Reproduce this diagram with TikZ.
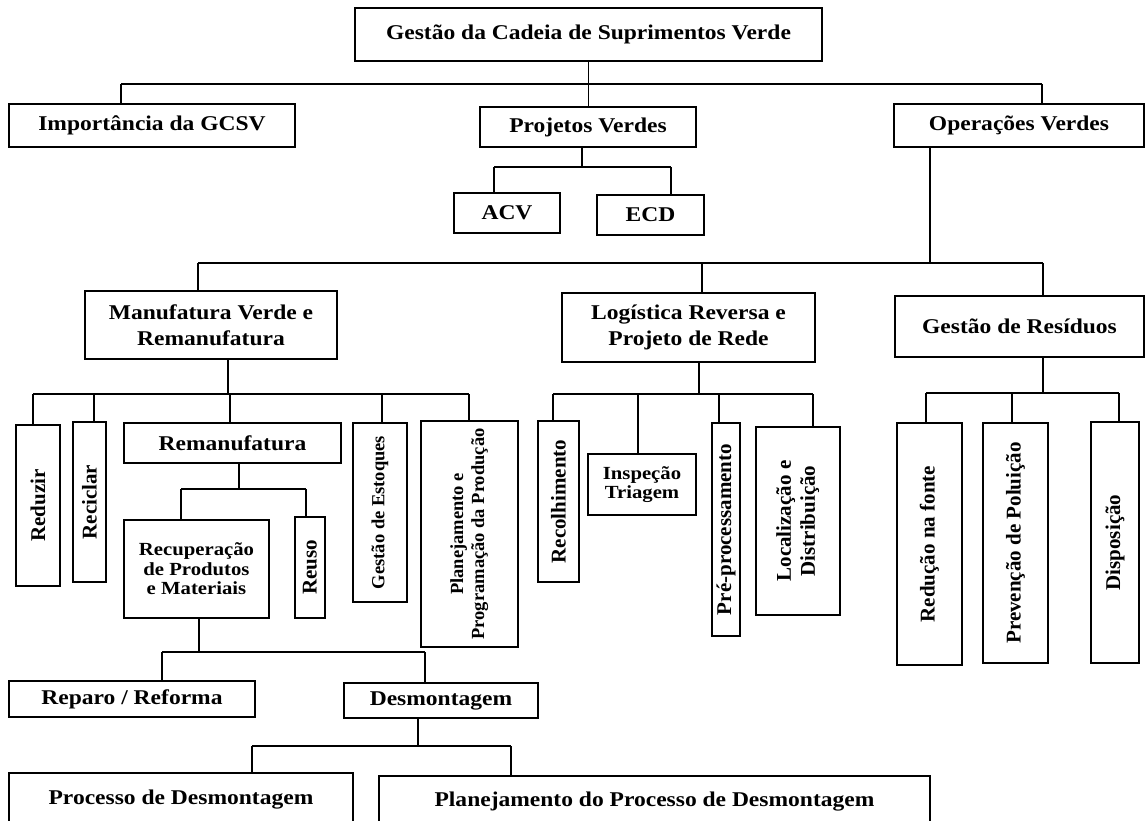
\documentclass[tikz,border=0pt]{standalone}
\usepackage{fontspec}
\setmainfont{Liberation Serif}[FakeStretch=1.12]
\newfontfamily\uprightfont{Liberation Serif}
\usepackage{graphicx}
\begin{document}
\begin{tikzpicture}[x=1pt,y=-1pt,
  box/.style={draw, line width=1.4pt, inner sep=0pt, align=center,
    font=\bfseries\fontsize{21}{26}\selectfont},
  smalltext/.style={font=\bfseries\fontsize{18.5}{19.5}\selectfont},
  rot/.style={font=\uprightfont\bfseries\fontsize{21}{24}\selectfont},
  smallrot/.style={font=\uprightfont\bfseries\fontsize{18.5}{21}\selectfont},
  link/.style={line width=1.4pt}]
\useasboundingbox (0,0) rectangle (1146,820);
\clip (0,0) rectangle (1146,820);

% top levels
\node[box, minimum width=467pt, minimum height=53pt] (root) at (588.5,34.5) {Gestão da Cadeia de Suprimentos Verde};
\node[box, minimum width=286pt, minimum height=43pt] (imp) at (152,125.5) {Importância da GCSV};
\node[box, minimum width=216pt, minimum height=40pt] (proj) at (588,127) {Projetos Verdes};
\node[box, minimum width=250pt, minimum height=43pt] (oper) at (1019,125.5) {Operações Verdes};
\node[box, minimum width=106pt, minimum height=40pt] (acv) at (507,213) {ACV};
\node[box, minimum width=107pt, minimum height=40pt] (ecd) at (650.5,215) {ECD};

% operations
\node[box, minimum width=252pt, minimum height=68pt] (manu) at (211,325) {Manufatura Verde e\\Remanufatura};
\node[box, minimum width=253pt, minimum height=69pt] (logi) at (688.5,327.5) {Logística Reversa e\\Projeto de Rede};
\node[box, minimum width=249pt, minimum height=61pt] (resid) at (1019.5,326.5) {Gestão de Resíduos};

% green manufacturing and remanufacturing
\node[box, rot, minimum width=44pt, minimum height=161pt] (redz) at (38,505.5) {\rotatebox{90}{Reduzir}};
\node[box, rot, minimum width=33pt, minimum height=160pt] (recic) at (89.5,502) {\rotatebox{90}{Reciclar}};
\node[box, minimum width=217pt, minimum height=40pt] (reman) at (232.5,443) {Remanufatura};
\node[box, smallrot, minimum width=54pt, minimum height=179pt] (estoq) at (380,512.5) {\rotatebox{90}{Gestão de Estoques}};
\node[box, smallrot, minimum width=97pt, minimum height=226pt] (plan) at (469.5,534) {\rotatebox{90}{\begin{tabular}{@{}c@{}}Planejamento e\\Programação da Produção\end{tabular}}};
\node[box, smalltext, minimum width=145pt, minimum height=98pt] (recup) at (196.5,569) {Recuperação\\de Produtos\\e Materiais};
\node[box, rot, minimum width=30pt, minimum height=101pt] (reuso) at (310,567.5) {\rotatebox{90}{Reuso}};
\node[box, minimum width=246pt, minimum height=36pt] (reparo) at (132,699) {Reparo / Reforma};
\node[box, minimum width=194pt, minimum height=35pt] (desm) at (441,700.5) {Desmontagem};
\node[box, minimum width=344pt, minimum height=54pt] (proc) at (181,800) {Processo de Desmontagem};
\node[box, minimum width=551pt, minimum height=52pt] (planproc) at (654.5,802) {Planejamento do Processo de Desmontagem};

% reverse logistics
\node[box, rot, minimum width=41pt, minimum height=161pt] (recol) at (558.5,501.5) {\rotatebox{90}{Recolhimento}};
\node[box, smalltext, minimum width=108pt, minimum height=61pt] (insp) at (642,484.5) {Inspeção\\Triagem};
\node[box, rot, minimum width=28pt, minimum height=213pt] (prep) at (726,529.5) {\rotatebox{90}{Pré-processamento}};
\node[box, rot, minimum width=84pt, minimum height=188pt] (local) at (798,521) {\rotatebox{90}{\begin{tabular}{@{}c@{}}Localização e\\Distribuição\end{tabular}}};

% waste management
\node[box, rot, minimum width=65pt, minimum height=242pt] (redf) at (929.5,544) {\rotatebox{90}{Redução na fonte}};
\node[box, rot, minimum width=65pt, minimum height=240pt] (prev) at (1015.5,543) {\rotatebox{90}{Prevenção de Poluição}};
\node[box, rot, minimum width=48pt, minimum height=241pt] (disp) at (1115,542.5) {\rotatebox{90}{Disposição}};

% bus lines
\coordinate (b0l) at (121,84);   \coordinate (b0r) at (1042,84);
\coordinate (bpl) at (494,167);  \coordinate (bpr) at (671,167);
\coordinate (b1l) at (198,263);  \coordinate (b1r) at (1043,263);
\coordinate (bml) at (33,394);   \coordinate (bmr) at (469,394);
\coordinate (brl) at (181,489);  \coordinate (brr) at (306,489);
\coordinate (bul) at (162,652);  \coordinate (bur) at (425,652);
\coordinate (bdl) at (252,746);  \coordinate (bdr) at (511,746);
\coordinate (bll) at (553,394);  \coordinate (blr) at (813,394);
\coordinate (bwl) at (926,393);  \coordinate (bwr) at (1119,393);

\begin{scope}[link]
% level 0
\draw (root.south) -- (root.south |- proj.north);
\draw (b0l) -- (b0r);
\draw (b0l) -- (b0l |- imp.north);
\draw (b0r) -- (b0r |- oper.north);
% green projects
\draw (582,147 |- proj.south) -- (582,167);
\draw (bpl) -- (bpr);
\draw (bpl) -- (bpl |- acv.north);
\draw (bpr) -- (bpr |- ecd.north);
% green operations
\draw (930,147 |- oper.south) -- (930,263);
\draw (b1l) -- (b1r);
\draw (b1l) -- (b1l |- manu.north);
\draw (702,263) -- (702,263 |- logi.north);
\draw (b1r) -- (b1r |- resid.north);
% manufacturing branch
\draw (228,359 |- manu.south) -- (228,394);
\draw (bml) -- (bmr);
\draw (bml) -- (bml |- redz.north);
\draw (94,394) -- (94,394 |- recic.north);
\draw (230,394) -- (230,394 |- reman.north);
\draw (382,394) -- (382,394 |- estoq.north);
\draw (bmr) -- (bmr |- plan.north);
% remanufacturing branch
\draw (239,463 |- reman.south) -- (239,489);
\draw (brl) -- (brr);
\draw (brl) -- (brl |- recup.north);
\draw (brr) -- (brr |- reuso.north);
% recovery branch
\draw (199,618 |- recup.south) -- (199,652);
\draw (bul) -- (bur);
\draw (bul) -- (bul |- reparo.north);
\draw (bur) -- (bur |- desm.north);
% disassembly branch
\draw (418,718 |- desm.south) -- (418,746);
\draw (bdl) -- (bdr);
\draw (bdl) -- (bdl |- proc.north);
\draw (bdr) -- (bdr |- planproc.north);
% reverse logistics branch
\draw (699,362 |- logi.south) -- (699,394);
\draw (bll) -- (blr);
\draw (bll) -- (bll |- recol.north);
\draw (638,394) -- (638,394 |- insp.north);
\draw (719,394) -- (719,394 |- prep.north);
\draw (blr) -- (blr |- local.north);
% waste branch
\draw (1043,357 |- resid.south) -- (1043,393);
\draw (bwl) -- (bwr);
\draw (bwl) -- (bwl |- redf.north);
\draw (1012,393) -- (1012,393 |- prev.north);
\draw (bwr) -- (bwr |- disp.north);
\end{scope}
\end{tikzpicture}
\end{document}
